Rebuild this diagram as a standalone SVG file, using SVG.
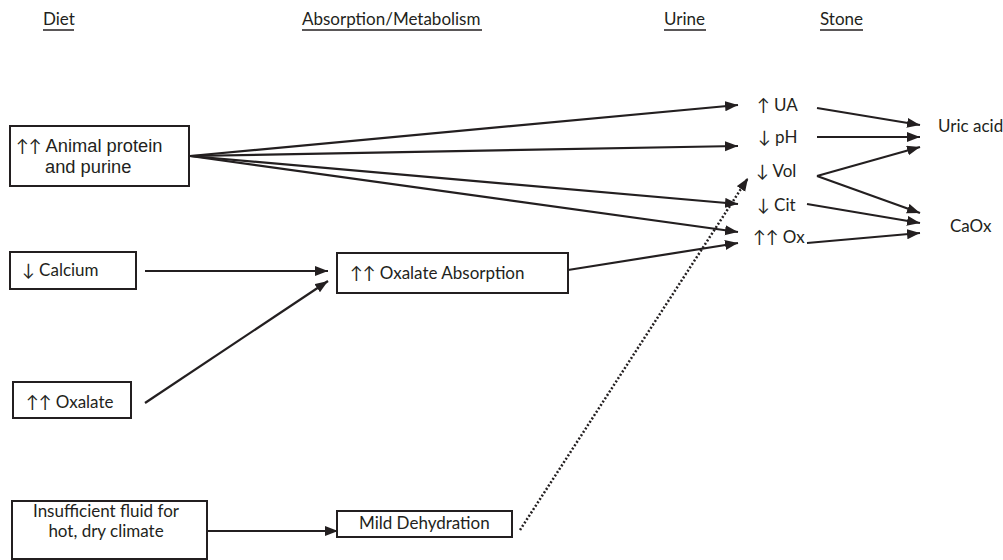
<svg xmlns="http://www.w3.org/2000/svg" width="1003" height="560" viewBox="0 0 1003 560">
<style>
.c{font-family:Lato,"Open Sans","DejaVu Sans",sans-serif;font-size:17px;fill:#231f20}
.a{font-family:"Liberation Sans",Arial,sans-serif;font-size:18.3px;fill:#231f20}
.ar{font-family:Lato,"DejaVu Sans",sans-serif;font-size:17px}
.h{font-family:Lato,"Open Sans","DejaVu Sans",sans-serif;font-size:17px;fill:#231f20}
.box{fill:#fff;stroke:#231f20;stroke-width:2}
.e{stroke:#231f20;stroke-width:2.2;fill:none}
.d{stroke:#231f20;stroke-width:2.5;fill:none;stroke-dasharray:2 2}
.u{stroke:#231f20;stroke-width:1.5}
</style>
<defs>
<marker id="ah" markerUnits="userSpaceOnUse" markerWidth="14" markerHeight="11" refX="13" refY="5" orient="auto">
<path d="M0,0 L13,5 L0,10 z" fill="#231f20"/>
</marker>
</defs>
<rect width="1003" height="560" fill="#fff"/>
<g id="headers">
<text class="h" x="43" y="25">Diet</text><line class="u" x1="43" y1="30" x2="74" y2="30"/>
<text class="h" x="302" y="25">Absorption/Metabolism</text><line class="u" x1="302" y1="30" x2="482" y2="30"/>
<text class="h" x="664" y="25">Urine</text><line class="u" x1="664" y1="30" x2="706" y2="30"/>
<text class="h" x="820" y="25">Stone</text><line class="u" x1="820" y1="30" x2="863" y2="30"/>
</g>
<g id="connectors">
<line class="e" x1="190" y1="156" x2="738" y2="105" marker-end="url(#ah)"/>
<line class="e" x1="190" y1="156" x2="738" y2="146" marker-end="url(#ah)"/>
<line class="e" x1="190" y1="156" x2="738" y2="204" marker-end="url(#ah)"/>
<line class="e" x1="190" y1="156" x2="738" y2="232" marker-end="url(#ah)"/>
<line class="e" x1="145" y1="271" x2="328" y2="271" marker-end="url(#ah)"/>
<line class="e" x1="145" y1="403" x2="328" y2="281" marker-end="url(#ah)"/>
<line class="e" x1="568" y1="270" x2="738" y2="243" marker-end="url(#ah)"/>
<line class="e" x1="207" y1="531" x2="338" y2="531" marker-end="url(#ah)"/>
<line class="d" x1="520" y1="530" x2="748" y2="178" marker-end="url(#ah)"/>
<line class="e" x1="817" y1="108" x2="920" y2="125" marker-end="url(#ah)"/>
<line class="e" x1="817" y1="137" x2="920" y2="137" marker-end="url(#ah)"/>
<line class="e" x1="817" y1="176" x2="920" y2="147" marker-end="url(#ah)"/>
<line class="e" x1="817" y1="176" x2="920" y2="213" marker-end="url(#ah)"/>
<line class="e" x1="807" y1="204" x2="920" y2="223" marker-end="url(#ah)"/>
<line class="e" x1="807" y1="243" x2="920" y2="233" marker-end="url(#ah)"/>
</g>
<g id="n-animal">
<rect class="box" x="10" y="126" width="179" height="60"/>
<text class="a" x="16" y="152"><tspan class="ar">↑↑</tspan> Animal protein</text>
<text class="a" x="45" y="173">and purine</text>
</g>
<g id="n-calcium">
<rect class="box" x="10" y="252" width="126" height="37"/>
<text class="c" x="22" y="276">↓ Calcium</text>
</g>
<g id="n-oxalate">
<rect class="box" x="13" y="382" width="118" height="36"/>
<text class="c" x="26" y="408">↑↑ Oxalate</text>
</g>
<g id="n-fluid">
<rect class="box" x="12" y="501" width="195" height="58"/>
<text class="c" x="106" y="517" text-anchor="middle">Insufficient fluid for</text>
<text class="c" x="106" y="537" text-anchor="middle">hot, dry climate</text>
</g>
<g id="n-oxabs">
<rect class="box" x="337" y="253" width="231" height="40"/>
<text class="c" x="350" y="279">↑↑ Oxalate Absorption</text>
</g>
<g id="n-dehyd">
<rect class="box" x="337" y="511" width="175" height="26"/>
<text class="c" x="359" y="529">Mild Dehydration</text>
</g>
<g id="n-ua"><text class="c" x="757" y="111">↑ UA</text></g>
<g id="n-ph"><text class="c" x="758" y="143">↓ pH</text></g>
<g id="n-vol"><text class="c" x="756" y="177">↓ Vol</text></g>
<g id="n-cit"><text class="c" x="757" y="211">↓ Cit</text></g>
<g id="n-ox"><text class="c" x="753" y="243">↑↑ Ox</text></g>
<g id="n-uric"><text class="c" x="938" y="132">Uric acid</text></g>
<g id="n-caox"><text class="c" x="950" y="232">CaOx</text></g>
</svg>
